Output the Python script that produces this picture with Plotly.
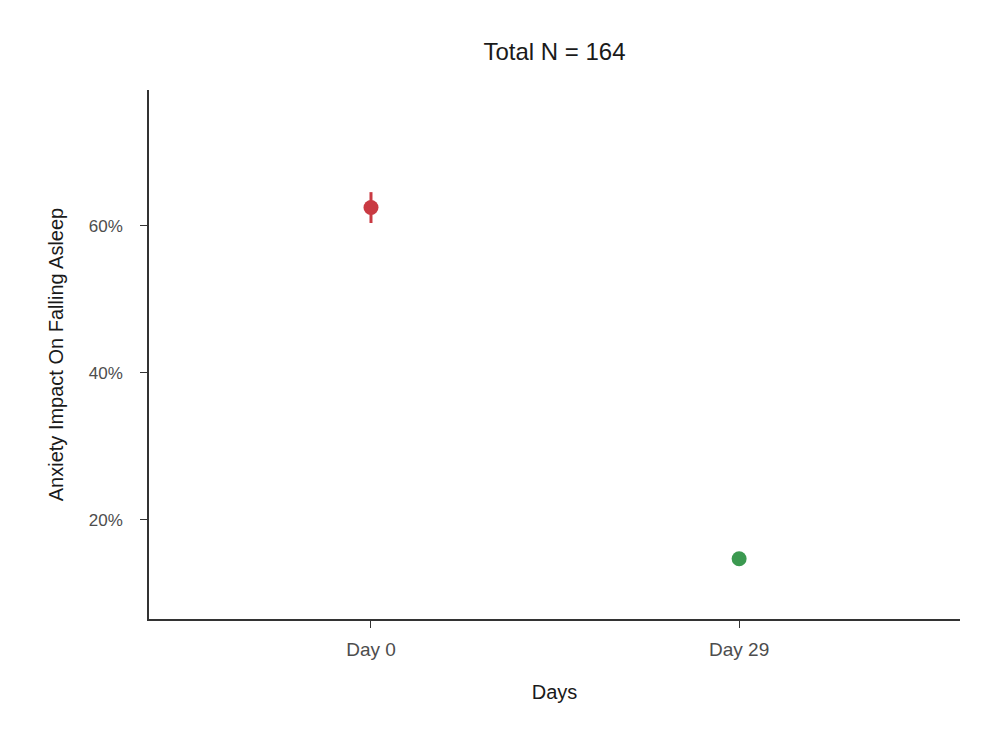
import plotly.graph_objects as go

# ── Data ─────────────────────────────────────────────────────────────────────
days = ["Day 0", "Day 29"]
share = [0.625, 0.147]
err_up = [0.021, 0.008]
err_down = [0.021, 0.008]
colors = ["#C93A42", "#3B9950"]

TICK_GREY = "#4D4D4D"
FONT = "Liberation Sans, Arial, sans-serif"

# the page adds an 8px body margin, so the figure is sized to fit the window
W, H = 992, 722

fig = go.Figure()
for d, v, eu, ed, c in zip(days, share, err_up, err_down, colors):
    fig.add_trace(go.Scatter(
        x=[d],
        y=[v],
        mode="markers",
        marker=dict(color=c, size=15, line=dict(width=0)),
        error_y=dict(type="data", array=[eu], arrayminus=[ed],
                     color=c, thickness=3, width=0),
        showlegend=False,
    ))

fig.update_layout(
    width=W, height=H,
    paper_bgcolor="white",
    plot_bgcolor="white",
    margin=dict(l=141, r=40, t=82, b=111),
    font=dict(family=FONT, color="#1A1A1A"),
    title=dict(text="Total N = 164", x=546.5 / W, xanchor="center",
               y=1 - 44 / H, yanchor="middle",
               font=dict(size=24, color="#1A1A1A")),
    xaxis=dict(
        type="category", range=[-0.603, 1.6],
        showline=True, linecolor="#333333", linewidth=1.5,
        ticks="outside", ticklen=7, tickcolor="#333333",
        ticklabelstandoff=5,
        showgrid=False, zeroline=False,
        tickfont=dict(size=19, color=TICK_GREY),
        title=dict(text="Days", font=dict(size=20, color="#1A1A1A"), standoff=26),
    ),
    yaxis=dict(
        range=[0.065, 0.785],
        tickvals=[0.2, 0.4, 0.6], tickformat=".0%",
        showline=True, linecolor="#333333", linewidth=1.5,
        ticks="outside", ticklen=7, tickcolor="#333333",
        ticklabelstandoff=14,
        showgrid=False, zeroline=False,
        tickfont=dict(size=17, color=TICK_GREY),
        title=dict(text="Anxiety Impact On Falling Asleep",
                   font=dict(size=20, color="#1A1A1A"), standoff=20),
    ),
)

fig.write_html("out.html")
